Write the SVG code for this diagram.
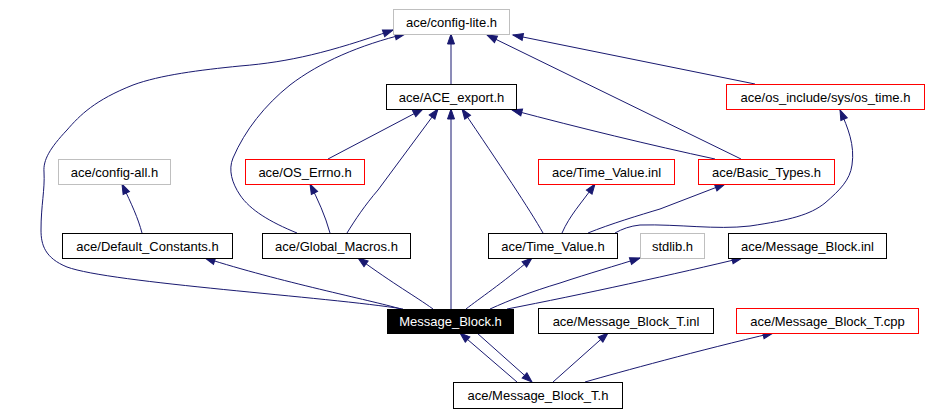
<svg xmlns="http://www.w3.org/2000/svg" width="931" height="415" viewBox="0 0 931 415">
<style>
  .n rect { fill: #ffffff; stroke: #000000; stroke-width: 1; }
  .n.gray rect { stroke: #bfbfbf; }
  .n.red rect { stroke: #ff0000; }
  .n.main rect { fill: #000000; stroke: #000000; }
  .n text { font-family: "Liberation Sans", Arial, sans-serif; font-size: 13px; fill: #000000; text-anchor: middle; }
  .n.main text { fill: #ffffff; }
  .e path { fill: none; stroke: #191970; stroke-width: 1; marker-end: url(#arr); }
</style>
<defs>
  <marker id="arr" markerUnits="userSpaceOnUse" markerWidth="11" markerHeight="9" refX="10" refY="3.5" orient="auto" overflow="visible">
    <path d="M0,0 L10,3.5 L0,7 z" fill="#191970" stroke="#191970" stroke-width="1"/>
  </marker>
</defs>
<rect width="931" height="415" fill="#ffffff"/>
<g id="edges" class="e">
  <path d="M403,309 C330,297 110,283 67,267 C45,258 41,245 41,230 C41,205 45,190 44,172 C43,160 50,148 67,130 C80,115 95,100 133,85 C160,75 200,70 240,66 C290,62 330,52 393,30"/>
  <path d="M401,309 C370,300 280,282 205,258"/>
  <path d="M433,309 C415,296 395,285 358,258"/>
  <path d="M451,309 L451,109"/>
  <path d="M466,309 C480,298 500,285 532,258"/>
  <path d="M490,309 C510,300 530,292 560,283 C590,273 615,266 640,258"/>
  <path d="M507,309 C580,295 680,273 742,258"/>
  <path d="M517,382 L460,333"/>
  <path d="M477,333 L532,382"/>
  <path d="M553,382 L608,333"/>
  <path d="M585,382 C620,372 700,350 773,333"/>
  <path d="M451,84 L451,34"/>
  <path d="M328,159 L423,109"/>
  <path d="M347,233 C355,220 365,205 378,190 L438,109"/>
  <path d="M330,233 C325,215 318,200 310,184"/>
  <path d="M297,233 C270,222 250,210 240,195 C232,183 228,170 233,158 C245,130 265,105 290,85 C320,62 360,45 405,34"/>
  <path d="M543,233 C530,210 500,165 462,109"/>
  <path d="M562,233 C570,215 580,205 595,184"/>
  <path d="M588,233 C610,224 640,215 660,209 L725,184"/>
  <path d="M615,233 C622,229 630,226 640,225 C680,224 715,230 750,226 C790,220 810,215 825,203 C840,190 850,180 852,165 C855,145 848,128 840,110"/>
  <path d="M715,159 C650,145 580,128 512,110"/>
  <path d="M741,159 L487,35"/>
  <path d="M755,84 L513,35"/>
  <path d="M142,233 C138,218 132,205 122,184"/>
</g>
<g id="config_lite" class="n gray"><rect x="393.5" y="9.5" width="116" height="25"/><text x="451.5" y="26.5">ace/config-lite.h</text></g>
<g id="ace_export" class="n"><rect x="386.5" y="84.5" width="130" height="25"/><text x="451.5" y="101.5">ace/ACE_export.h</text></g>
<g id="os_time" class="n red"><rect x="726.5" y="84.5" width="198" height="25"/><text x="825.5" y="101.5">ace/os_include/sys/os_time.h</text></g>
<g id="config_all" class="n gray"><rect x="58.5" y="159.5" width="112" height="25"/><text x="114.5" y="176.5">ace/config-all.h</text></g>
<g id="os_errno" class="n red"><rect x="245.5" y="159.5" width="119" height="25"/><text x="305" y="176.5">ace/OS_Errno.h</text></g>
<g id="time_value_inl" class="n red"><rect x="538.5" y="159.5" width="136" height="25"/><text x="606.5" y="176.5">ace/Time_Value.inl</text></g>
<g id="basic_types" class="n red"><rect x="698.5" y="159.5" width="136" height="25"/><text x="766.5" y="176.5">ace/Basic_Types.h</text></g>
<g id="default_constants" class="n"><rect x="62.5" y="233.5" width="170" height="25"/><text x="147.5" y="250.5">ace/Default_Constants.h</text></g>
<g id="global_macros" class="n"><rect x="262.5" y="233.5" width="148" height="25"/><text x="336.5" y="250.5">ace/Global_Macros.h</text></g>
<g id="time_value" class="n"><rect x="488.5" y="233.5" width="129" height="25"/><text x="553" y="250.5">ace/Time_Value.h</text></g>
<g id="stdlib" class="n gray"><rect x="640.5" y="233.5" width="64" height="25"/><text x="672.5" y="250.5">stdlib.h</text></g>
<g id="message_block_inl" class="n"><rect x="728.5" y="233.5" width="158" height="25"/><text x="807.5" y="250.5">ace/Message_Block.inl</text></g>
<g id="message_block_h" class="n main"><rect x="387.5" y="309.5" width="126" height="24"/><text x="450.5" y="326">Message_Block.h</text></g>
<g id="message_block_t_inl" class="n"><rect x="538.5" y="308.5" width="175" height="25"/><text x="626" y="325.5">ace/Message_Block_T.inl</text></g>
<g id="message_block_t_cpp" class="n red"><rect x="736.5" y="308.5" width="182" height="25"/><text x="827.5" y="325.5">ace/Message_Block_T.cpp</text></g>
<g id="message_block_t_h" class="n"><rect x="453.5" y="382.5" width="169" height="26"/><text x="538" y="400">ace/Message_Block_T.h</text></g>
</svg>
